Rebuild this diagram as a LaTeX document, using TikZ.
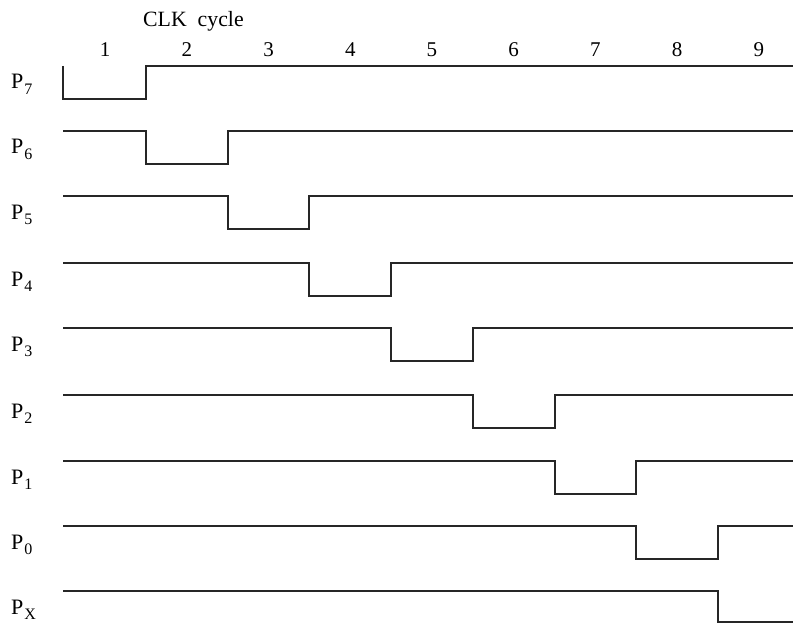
\documentclass[tikz,border=0pt]{standalone}
\usepackage{fontspec}
\setmainfont{Liberation Serif}
\begin{document}
\begin{tikzpicture}[x=1pt,y=-1pt,
  wave/.style={line width=2pt,line join=miter,black!85},
  lbl/.style={anchor=base west,inner sep=0pt,font=\fontsize{22}{22}\selectfont},
  num/.style={anchor=base,inner sep=0pt,font=\fontsize{21}{21}\selectfont}]
\useasboundingbox (0,0) rectangle (793,623);
\node[anchor=base west,inner sep=0pt,font=\fontsize{21.8}{21.8}\selectfont] (clk) at (143,27) {CLK\ \ cycle};
\foreach \i in {1,...,9} {
  \node[num] (n\i) at ({105.15+81.7*(\i-1)},57) {\i};
}
% labels
\foreach \s/\hy in {7/66,6/131,5/196,4/263,3/328,2/395,1/461,0/526,X/591} {
  \node[lbl] (p\s) at (11,\hy+23) {P\kern1pt\raisebox{-0.27em}{\fontsize{16}{16}\selectfont \s}};
}
% P7
\draw[wave] (63,66) -- (63,99) -- (146,99) -- (146,66) -- (793,66);
% middle rows
\foreach \k/\hy in {1/131,2/196,3/263,4/328,5/395,6/461,7/526} {
  \pgfmathsetmacro{\ly}{\hy+33}
  \pgfmathsetmacro{\xa}{146+81.7*(\k-1)}
  \pgfmathsetmacro{\xb}{146+81.7*\k}
  \draw[wave] (63,\hy) -- (\xa,\hy) -- (\xa,\ly) -- (\xb,\ly) -- (\xb,\hy) -- (793,\hy);
}
% PX
\draw[wave] (63,591) -- (717.9,591) -- (717.9,621.5) -- (793,621.5);
\end{tikzpicture}
\end{document}
